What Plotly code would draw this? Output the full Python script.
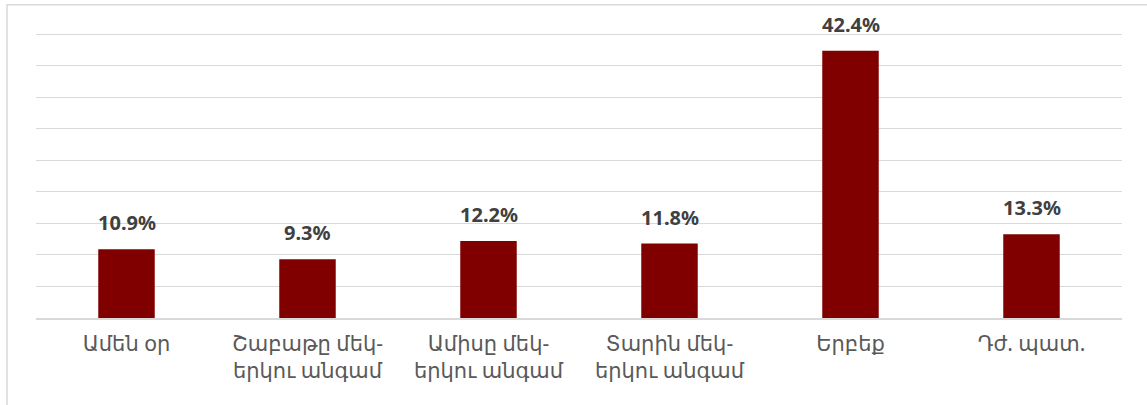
import plotly.graph_objects as go

categories = ["Ամեն օր", "Շաբաթը մեկ-<br>երկու անգամ", "Ամիսը մեկ-<br>երկու անգամ",
              "Տարին մեկ-<br>երկու անգամ", "Երբեք", "Դժ. պատ."]
values = [10.9, 9.3, 12.2, 11.8, 42.4, 13.3]
labels = ["10.9%", "9.3%", "12.2%", "11.8%", "42.4%", "13.3%"]

fig = go.Figure()
fig.add_trace(go.Bar(x=categories, y=values, marker=dict(color="#800000", line=dict(width=0)),
                     hoverinfo="skip"))

for c, v, t in zip(categories, values, labels):
    fig.add_annotation(x=c, y=v, text=t, showarrow=False, yanchor="bottom", yshift=11,
                       font=dict(family="Noto Sans, DejaVu Sans, sans-serif", size=20, color="#404040",
                                 weight="bold"))

frame = dict(type="rect", xref="paper", yref="paper", x0=-0.0267, x1=1.03, y0=-0.35, y1=1.080,
             line=dict(color="#d9d9d9", width=1.5), fillcolor="rgba(0,0,0,0)", layer="below")

fig.update_layout(
    width=1147, height=405,
    margin=dict(l=36, r=25, t=28.2, b=87),
    paper_bgcolor="white", plot_bgcolor="white",
    bargap=0.688,
    showlegend=False,
    shapes=[frame],
    font=dict(family="Noto Sans, DejaVu Sans, sans-serif", color="#595959"),
    xaxis=dict(tickfont=dict(size=21, color="#595959"), showline=True, linecolor="#d9d9d9",
               linewidth=1.5, ticks="", showgrid=False, ticklabelstandoff=6, automargin=False),
    yaxis=dict(range=[0, 46], dtick=5, showticklabels=False, showgrid=True, gridcolor="#d9d9d9",
               gridwidth=1.3, zeroline=False, ticks=""),
)

fig.write_html("out.html", config={"displayModeBar": False},
               post_script="document.body.style.margin='0';")
